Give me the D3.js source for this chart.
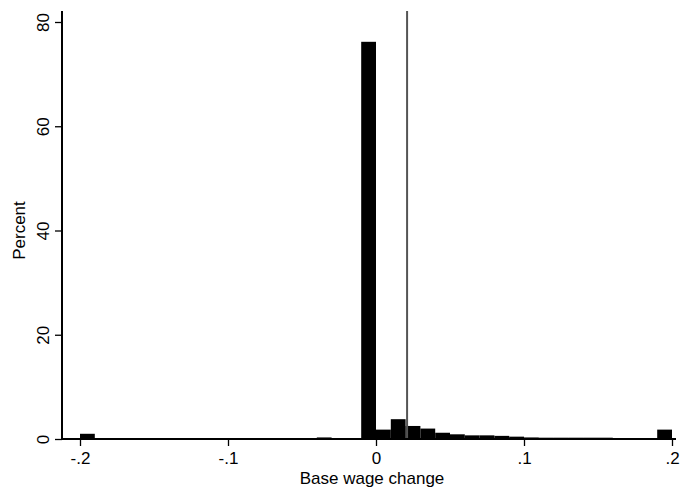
<!DOCTYPE html>
<html>
<head>
<meta charset="utf-8">
<script src="https://cdn.jsdelivr.net/npm/d3@7/dist/d3.min.js"></script>
<style>
  body { margin: 0; background: #fff; }
  text { font-family: "Liberation Sans", Arial, sans-serif; }
</style>
</head>
<body>
<svg id="chart" width="680" height="491"></svg>
<script>
// histogram bins (left edge, width .01) and percent of obs
var binStart = [-0.20, -0.04, -0.01, 0.00, 0.01, 0.02, 0.03, 0.04, 0.05, 0.06, 0.07, 0.08,
                0.09, 0.10, 0.11, 0.12, 0.13, 0.14, 0.15, 0.16, 0.17, 0.18, 0.19];
var percent  = [1.0, 0.3, 76.2, 1.8, 3.8, 2.5, 2.0, 1.2, 0.9, 0.7, 0.7, 0.6,
                0.45, 0.3, 0.25, 0.25, 0.25, 0.25, 0.25, 0.05, 0.05, 0.05, 1.8];
var binWidth = 0.01;
var meanLine = 0.021;

var xTicks = [-0.2, -0.1, 0, 0.1, 0.2];
var xTickLabels = ["-.2", "-.1", "0", ".1", ".2"];
var yTicks = [0, 20, 40, 60, 80];

var svg = d3.select("#chart");

var x = d3.scaleLinear().domain([-0.2, 0.2]).range([80, 672]);
var y = d3.scaleLinear().domain([0, 80]).range([439, 22]);

var data = binStart.map(function(b, i) { return {x0: b, x1: b + binWidth, v: percent[i]}; });

svg.selectAll("rect.bar")
    .data(data)
    .enter().append("rect")
    .attr("class", "bar")
    .attr("x", function(d) { return x(d.x0); })
    .attr("width", function(d) { return x(d.x1) - x(d.x0); })
    .attr("y", function(d) { return y(d.v); })
    .attr("height", function(d) { return y(0) - y(d.v); })
    .style("fill", "#000");

// reference line
svg.append("line")
    .attr("x1", x(meanLine)).attr("x2", x(meanLine))
    .attr("y1", 11).attr("y2", y(0))
    .style("stroke", "#555")
    .style("stroke-width", 2);

// x axis
var xAxis = d3.axisBottom(x).tickValues(xTicks)
    .tickFormat(function(d, i) { return xTickLabels[i]; })
    .tickSize(7).tickSizeOuter(0).tickPadding(6);
var gx = svg.append("g")
    .attr("transform", "translate(0," + y(0) + ")")
    .call(xAxis);
gx.select(".domain").remove();
gx.append("line").attr("x1", 62).attr("x2", 676).attr("y1", 0).attr("y2", 0)
    .style("stroke", "#000").style("stroke-width", 2);
gx.selectAll(".tick line").style("stroke", "#000").style("stroke-width", 1.3);
gx.selectAll(".tick text").style("font-size", "17px").style("fill", "#000");

// y axis
var yAxis = d3.axisLeft(y).tickValues(yTicks).tickSize(7).tickSizeOuter(0).tickPadding(5);
var gy = svg.append("g")
    .attr("transform", "translate(62,0)")
    .call(yAxis);
gy.select(".domain").remove();
gy.append("line").attr("x1", 0).attr("x2", 0).attr("y1", 11).attr("y2", y(0) + 1)
    .style("stroke", "#000").style("stroke-width", 2);
gy.selectAll(".tick line").style("stroke", "#000").style("stroke-width", 1.3);
gy.selectAll(".tick text")
    .style("font-size", "17px").style("fill", "#000")
    .attr("text-anchor", "middle")
    .attr("dy", 0)
    .attr("transform", "translate(-13,0) rotate(-90)")
    .attr("x", 0).attr("y", 0);

// axis titles
svg.append("text")
    .attr("x", 372).attr("y", 484)
    .attr("text-anchor", "middle")
    .style("font-size", "17px")
    .text("Base wage change");

svg.append("text")
    .attr("transform", "translate(25," + y(40) + ") rotate(-90)")
    .attr("text-anchor", "middle")
    .style("font-size", "17px")
    .text("Percent");
</script>
</body>
</html>
